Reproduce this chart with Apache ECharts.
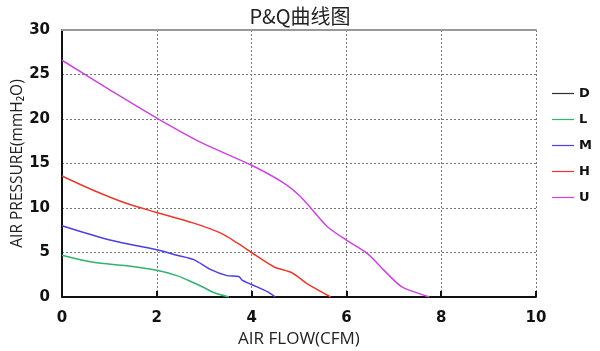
<!DOCTYPE html>
<html>
<head>
<meta charset="utf-8">
<script src="https://cdn.jsdelivr.net/npm/echarts@6/dist/echarts.min.js"></script>
<style>
  html, body { margin: 0; padding: 0; background: #fff; }
  #chart { width: 600px; height: 351px; }
</style>
</head>
<body>
<div id="chart"></div>
<script>
// 曲线数据 [风量 CFM, 静压 mmH2O]
const seriesNames = ['D', 'L', 'M', 'H', 'U']
const seriesColors = ['#333333', '#33b26b', '#4b3fe0', '#e53a2f', '#cc44dd']

const dData = []
const lData = [
  [0, 4.7], [0.66, 3.9], [1.37, 3.5], [2, 3.0], [2.42, 2.4],
  [2.78, 1.6], [2.98, 1.1], [3.2, 0.5], [3.52, 0]
]
const mData = [
  [0, 8.0], [1.01, 6.4], [2, 5.3], [2.42, 4.7], [2.78, 4.2], [3.13, 3.1],
  [3.48, 2.4], [3.73, 2.3], [3.8, 1.9], [4.0, 1.4], [4.33, 0.6], [4.5, 0]
]
const hData = [
  [0, 13.6], [0.66, 12.0], [1.37, 10.5], [2, 9.5], [2.78, 8.3], [3.34, 7.2],
  [3.69, 6.1], [4.0, 5.0], [4.47, 3.4], [4.86, 2.7], [5.17, 1.5], [5.67, 0]
]
const uData = [
  [0, 26.6], [1, 23.3], [2, 20.1], [2.92, 17.4], [4.0, 14.8], [4.68, 12.8],
  [5.03, 11.3], [5.28, 9.8], [5.6, 7.9], [6.0, 6.4], [6.44, 4.9], [6.72, 3.4],
  [7.08, 1.5], [7.22, 1.0], [7.75, 0]
]
const allData = [dData, lData, mData, hData, uData]

const chart = echarts.init(document.getElementById('chart'))

const labelFont = { color: '#111', fontSize: 15, fontWeight: 'bold', fontFamily: 'DejaVu Sans' }

const option = {
  animation: false,
  title: {
    text: 'P&Q曲线图',
    left: 'center',
    top: 1,
    textStyle: { color: '#222', fontSize: 20, fontWeight: 'normal', fontFamily: 'Noto Sans CJK SC' }
  },
  legend: {
    orient: 'vertical',
    left: 547,
    top: 82,
    itemGap: 13,
    itemWidth: 22,
    itemHeight: 13,
    icon: 'path://M0,7 L18,7 L18,8 L0,8 Z',
    data: seriesNames,
    textStyle: { color: '#111', fontSize: 13, fontWeight: 'bold', fontFamily: 'DejaVu Sans' }
  },
  grid: { left: 62, right: 64, top: 30, bottom: 54, containLabel: false, outerBoundsMode: 'none' },
  xAxis: [
    {
      type: 'value',
      min: 0, max: 10, interval: 2,
      name: 'AIR FLOW(CFM)',
      nameLocation: 'middle',
      nameGap: 32,
      nameTextStyle: { color: '#222', fontSize: 17, fontFamily: 'Open Sans' },
      axisLine: { lineStyle: { color: '#111', width: 2 } },
      axisTick: { show: true, inside: true, length: 6, lineStyle: { color: '#111', width: 2 } },
      axisLabel: Object.assign({ margin: 14 }, labelFont),
      splitLine: { lineStyle: { color: '#777', type: [2, 2], width: 1 } }
    },
    {
      type: 'value',
      position: 'top',
      min: 0, max: 10, interval: 2,
      axisLine: { show: true, lineStyle: { color: '#999', width: 2 } },
      axisTick: { show: false },
      axisLabel: { show: false },
      splitLine: { show: false }
    }
  ],
  yAxis: {
    type: 'value',
    min: 0, max: 30, interval: 5,
    name: 'AIR PRESSURE(mmH₂O)',
    nameLocation: 'middle',
    nameGap: 36,
    nameMoveOverlap: false,
    nameTextStyle: { color: '#222', fontSize: 15.5, fontFamily: 'Open Sans' },
    axisLine: { show: true, lineStyle: { color: '#111', width: 2 } },
    axisTick: { show: false },
    axisLabel: Object.assign({ margin: 12 }, labelFont),
    splitLine: { lineStyle: { color: '#777', type: [2, 2], width: 1 } }
  },
  series: seriesNames.map((name, i) => ({
    name: name,
    type: 'line',
    data: allData[i],
    smooth: 0.3,
    showSymbol: false,
    color: seriesColors[i],
    lineStyle: { width: 1.5 }
  }))
}

chart.setOption(option)
</script>
</body>
</html>
